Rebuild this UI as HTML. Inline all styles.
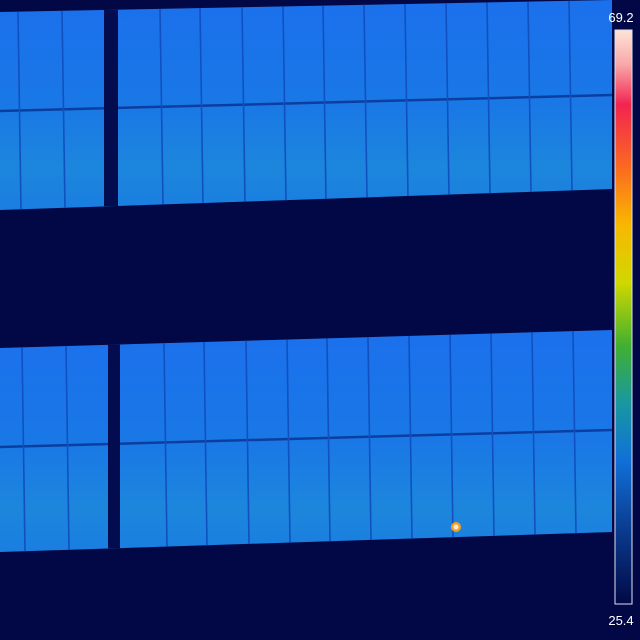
<!DOCTYPE html>
<html><head><meta charset="utf-8"><style>
html,body{margin:0;padding:0;background:#020845;}
svg{display:block;}
text{font-family:"Liberation Sans",sans-serif;}
</style></head><body>
<svg id="c" width="640" height="640" viewBox="0 0 640 640">
<defs>
<linearGradient id="pg" x1="0" y1="0" x2="0" y2="1">
<stop offset="0" stop-color="#1b70ec"/><stop offset="0.5" stop-color="#1a78e6"/>
<stop offset="0.8" stop-color="#1c86dc"/><stop offset="1" stop-color="#1a7ee0"/>
</linearGradient>
<linearGradient id="cb" x1="0" y1="0" x2="0" y2="1">
<stop offset="0" stop-color="#fde4d8"/><stop offset="0.06" stop-color="#f8a8a8"/>
<stop offset="0.13" stop-color="#f22450"/><stop offset="0.24" stop-color="#fb6a20"/>
<stop offset="0.34" stop-color="#f8b800"/><stop offset="0.44" stop-color="#d0d800"/>
<stop offset="0.55" stop-color="#40b030"/><stop offset="0.65" stop-color="#1898a0"/>
<stop offset="0.75" stop-color="#1070d8"/><stop offset="0.87" stop-color="#0a3c90"/>
<stop offset="1" stop-color="#020845"/>
</linearGradient>
</defs>
<rect width="640" height="640" fill="#020845"/>
<g id="panels"></g>
<circle cx="456" cy="527" r="5" fill="#f5a020"/>
<circle cx="456" cy="527" r="2.5" fill="#fde8d0"/>
<rect x="615" y="30" width="17" height="574" fill="url(#cb)" stroke="#e0e0f0" stroke-width="1"/>
<text x="621" y="22" font-size="13" fill="#ffffff" text-anchor="middle">69.2</text>
<text x="621" y="625" font-size="13" fill="#ffffff" text-anchor="middle">25.4</text>
</svg>
<script>
const rowTop=[12,0,348,330];
const rowMid=[111,95,447,430];
const rowBot=[210,189,552,532];
const gapX=[[104,118],[108,120]];
const colLines=[18,62,160,200,242,283,323,364,405,446,487,528,569];
const ns="http://www.w3.org/2000/svg";
const g=document.getElementById('panels');
function yAt(l,r,x){return l+(r-l)*x/612;}
for(let i=0;i<2;i++){
  const t0=rowTop[i*2],t1=rowTop[i*2+1],m0=rowMid[i*2],m1=rowMid[i*2+1],b0=rowBot[i*2],b1=rowBot[i*2+1];
  const p=document.createElementNS(ns,'polygon');
  p.setAttribute('points',`0,${t0} 612,${t1} 612,${b1} 0,${b0}`);
  p.setAttribute('fill','url(#pg)');
  
  
  g.appendChild(p);
  const d=document.createElementNS(ns,'line');
  d.setAttribute('x1',0);d.setAttribute('y1',m0);d.setAttribute('x2',612);d.setAttribute('y2',m1);
  d.setAttribute('stroke','#0c3ea0');d.setAttribute('stroke-width','2.5');
  
  
  g.appendChild(d);
  colLines.forEach(x=>{
    const l=document.createElementNS(ns,'line');
    const xx=x+(i?4:0);
    l.setAttribute('x1',xx);l.setAttribute('y1',yAt(t0,t1,xx));
    l.setAttribute('x2',xx+3);l.setAttribute('y2',yAt(b0,b1,xx));
    l.setAttribute('stroke','#1050c0');l.setAttribute('stroke-width','1.6');
    
    
    g.appendChild(l);
  });
  const gx=gapX[i];
  const gm=(gx[0]+gx[1])/2;
  const r=document.createElementNS(ns,'rect');
  r.setAttribute('x',gx[0]);r.setAttribute('y',yAt(t0,t1,gm));
  r.setAttribute('width',gx[1]-gx[0]);r.setAttribute('height',yAt(b0,b1,gm)-yAt(t0,t1,gm));
  r.setAttribute('fill','#040c50');
  
  
  g.appendChild(r);
}
</script>
</body></html>
